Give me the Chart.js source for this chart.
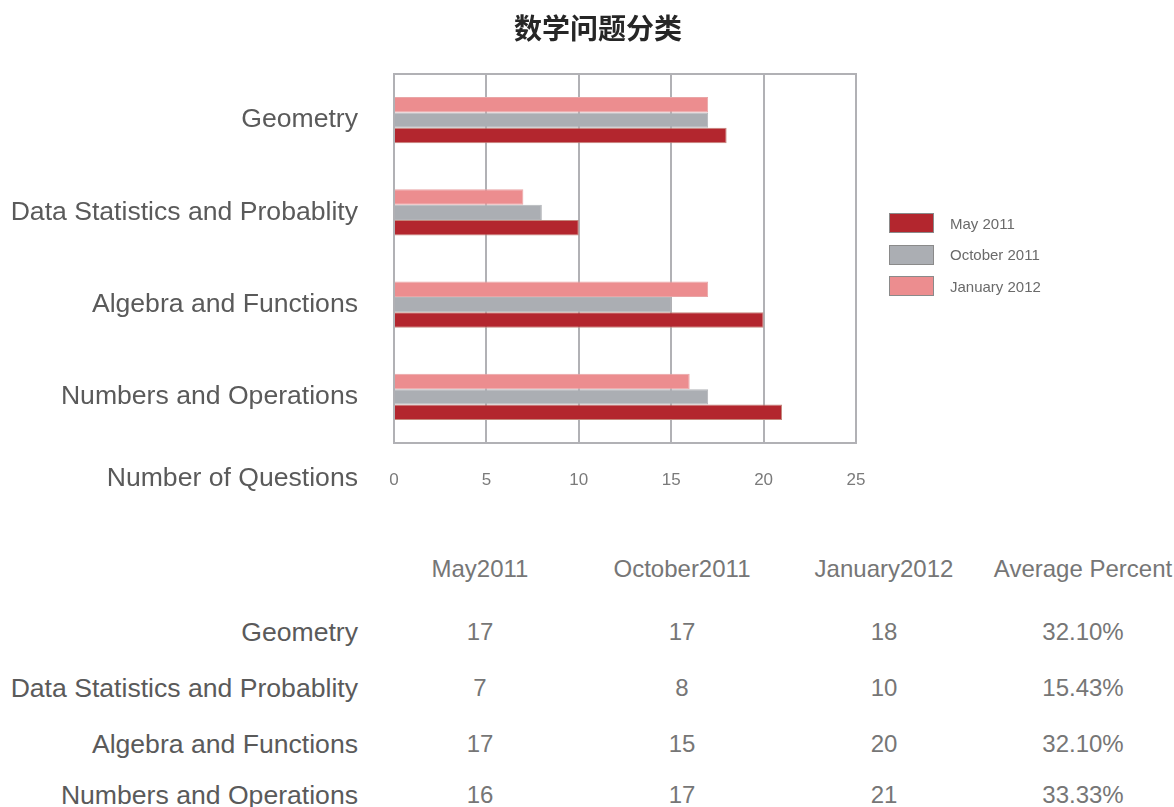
<!DOCTYPE html>
<html>
<head>
<meta charset="utf-8">
<title>数学问题分类</title>
<script src="https://cdn.jsdelivr.net/npm/chart.js@4.4.1/dist/chart.umd.min.js"></script>
<style>
    body { margin: 0; background: #fff; font-family: "Liberation Sans", Arial, sans-serif; }
    #wrap { position: relative; width: 1174px; height: 807px; overflow: hidden; }
    #questionsChart { position: absolute; left: 0; top: 0; }
    #titulo { position: absolute; left: 0; top: 10px; width: 1196px; text-align: center;
              font: bold 28px "Noto Sans CJK SC", sans-serif; line-height: 34px; color: #262626; }
    #legend { position: absolute; left: 889px; top: 213px; }
    #legend ul { list-style: none; margin: 0; padding: 0; }
    #legend li { height: 20px; margin-bottom: 11.5px; font-size: 15px; color: #6a6a6a; display: flex; align-items: center; }
    #legend span { display: inline-block; width: 43px; height: 18px; border: 1px solid #8a8a8a; margin-right: 16px; }
    .cell { position: absolute; width: 200px; font-size: 24px; line-height: 30px; color: #767676; text-align: center; }
    .rowLabel { position: absolute; left: 0; width: 358px; font-size: 26.6px; line-height: 30px; color: #5a5a5a; text-align: right; }
</style>
</head>
<body>
<div id="wrap">
    <canvas id="questionsChart" width="1174" height="500"></canvas>
    <div id="titulo">数学问题分类</div>
    <div id="legend"></div>
    <div id="tabla"></div>
</div>
<script>
// Categorías y series del gráfico
const categories = ['Geometry', 'Data Statistics and Probablity', 'Algebra and Functions', 'Numbers and Operations'];
const seriesLabels = ['May 2011', 'October 2011', 'January 2012'];
const may2011 = [18, 10, 20, 21];
const october2011 = [17, 8, 15, 17];
const january2012 = [17, 7, 17, 16];
const xTickValues = [0, 5, 10, 15, 20, 25];

// Tabla de abajo
const tableHeaders = ['May2011', 'October2011', 'January2012', 'Average Percent'];
const tableMay2011 = [17, 7, 17, 16];
const tableOctober2011 = [17, 8, 15, 17];
const tableJanuary2012 = [18, 10, 20, 21];
const averagePercent = ['32.10%', '15.43%', '32.10%', '33.33%'];

const colores = {
    may: { fill: '#b3262e', border: '#c4877c' },
    oct: { fill: '#abaeb3', border: '#b3b5b9' },
    jan: { fill: '#ec8d8f', border: '#e9a5a6' }
};

Chart.defaults.font.family = "'Liberation Sans', Arial, sans-serif";

// Marco gris alrededor del área del gráfico
const plotFrame = {
    id: 'plotFrame',
    beforeDatasetsDraw(chart) {
        const { ctx, chartArea: a } = chart;
        ctx.save();
        ctx.strokeStyle = '#b1b1b5';
        ctx.lineWidth = 2;
        ctx.strokeRect(a.left, a.top, a.right - a.left, a.bottom - a.top);
        ctx.restore();
    }
};

// Texto "Number of Questions" a la izquierda de las marcas del eje X
const axisCaption = {
    id: 'axisCaption',
    afterDraw(chart) {
        const { ctx, chartArea } = chart;
        const x = chart.scales.x;
        ctx.save();
        ctx.font = "26.6px 'Liberation Sans', Arial, sans-serif";
        ctx.fillStyle = '#5a5a5a';
        ctx.textAlign = 'right';
        ctx.textBaseline = 'middle';
        ctx.fillText('Number of Questions', chartArea.left - 36, x.top + x.options.ticks.padding + 9);
        ctx.restore();
    }
};

// Leyenda en HTML (orden inverso al de las barras)
const legendCallback = {
    id: 'legendCallback',
    beforeInit(chart) {
        const legendContainer = document.getElementById('legend');
        let legendHTML = '<ul>';
        chart.data.datasets.slice().reverse().forEach(ds => {
            legendHTML += `<li><span style="background-color:${ds.backgroundColor};"></span>${ds.label}</li>`;
        });
        legendHTML += '</ul>';
        legendContainer.innerHTML = legendHTML;
    }
};

const ctx = document.getElementById('questionsChart').getContext('2d');
new Chart(ctx, {
    type: 'bar',
    data: {
        labels: categories,
        datasets: [{
            label: seriesLabels[2],
            data: january2012,
            backgroundColor: colores.jan.fill,
            borderColor: colores.jan.border,
            borderWidth: 1
        }, {
            label: seriesLabels[1],
            data: october2011,
            backgroundColor: colores.oct.fill,
            borderColor: colores.oct.border,
            borderWidth: 1
        }, {
            label: seriesLabels[0],
            data: may2011,
            backgroundColor: colores.may.fill,
            borderColor: colores.may.border,
            borderWidth: 1
        }]
    },
    options: {
        indexAxis: 'y',
        responsive: false,
        animation: false,
        categoryPercentage: 0.5,
        barPercentage: 1,
        layout: { padding: { left: 0, right: 318, top: 74, bottom: 0 } },
        scales: {
            x: {
                min: 0,
                max: 25,
                afterBuildTicks: scale => { scale.ticks = xTickValues.map(v => ({ value: v })); },
                afterFit: scale => { scale.height = 57; },
                grid: { color: '#b1b1b5', lineWidth: 2, drawTicks: false },
                border: { display: false },
                ticks: { padding: 27, color: '#7a7a7a', font: { size: 17 } }
            },
            y: {
                afterFit: scale => { scale.width = 394; },
                grid: { display: false, drawTicks: false },
                border: { display: false },
                ticks: { padding: 36, color: '#5a5a5a', font: { size: 26.6 } }
            }
        },
        plugins: {
            legend: { display: false },
            tooltip: { enabled: false }
        }
    },
    plugins: [plotFrame, axisCaption, legendCallback]
});

// Tabla de valores debajo del gráfico
function construirTabla() {
    const tabla = document.getElementById('tabla');
    const columnas = [tableMay2011, tableOctober2011, tableJanuary2012, averagePercent];
    const centrosX = [480, 682, 884, 1083];
    const centrosY = [632, 688, 744, 795];
    const celda = (texto, cx, cy, clase) => {
        const div = document.createElement('div');
        div.className = clase;
        div.textContent = texto;
        if (clase === 'cell') div.style.left = (cx - 100) + 'px';
        div.style.top = (cy - 15) + 'px';
        tabla.appendChild(div);
    };
    tableHeaders.forEach((h, i) => celda(h, centrosX[i], 569, 'cell'));
    categories.forEach((cat, r) => {
        celda(cat, 0, centrosY[r], 'rowLabel');
        columnas.forEach((col, c) => celda(col[r], centrosX[c], centrosY[r], 'cell'));
    });
}

window.onload = construirTabla;
</script>
</body>
</html>
